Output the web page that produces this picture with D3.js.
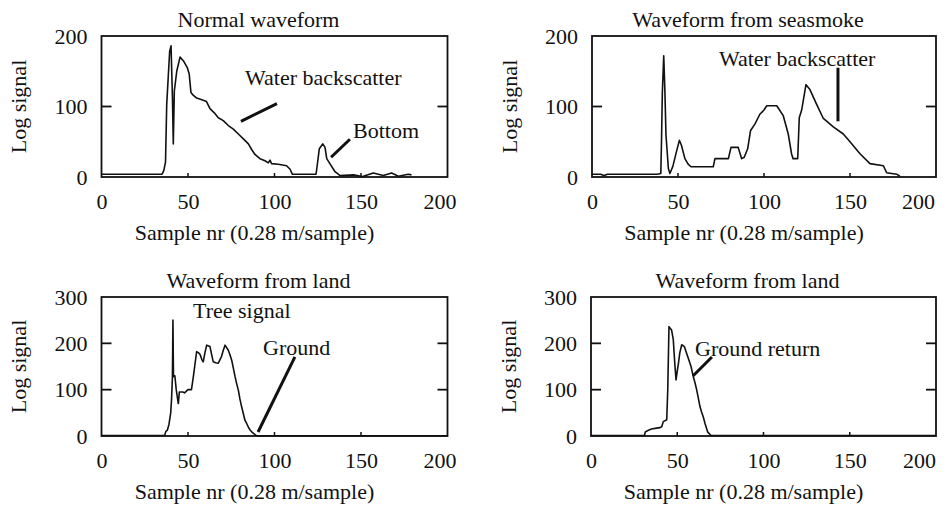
<!DOCTYPE html>
<html><head><meta charset="utf-8">
<script src="https://cdn.jsdelivr.net/npm/d3@7"></script>
<style>
html,body{margin:0;padding:0;background:#fff;}
svg{display:block;font-family:"Liberation Serif","Times New Roman",serif;}
</style></head><body>
<svg id="chart" width="949" height="506"></svg>
<script>
// ---------- data ----------
const xTickValues = [0, 50, 100, 150, 200];
const yTicksWater = [0, 100, 200];
const yTicksLand = [0, 100, 200, 300];
const panelTitles = ["Normal waveform", "Waveform from seasmoke", "Waveform from land", "Waveform from land"];
const xAxisTitle = "Sample nr (0.28 m/sample)";
const yAxisTitle = "Log signal";

// [sample nr, log signal]
const normalWave = [[0,4],[35,4],[36,9],[37,21],[37.7,103],[38.6,143],[39.4,178],[40.2,186],[41,113],[41.5,47],[42.1,122],
 [43.5,150],[45.4,170],[47.3,165],[49.6,155],[50.7,146],[51.7,120],[53,116],[55,112],[58.8,109],[60.7,107],[62.7,97],
 [65.2,91],[67.5,84],[70.4,80],[73.3,73],[76.2,68],[79.1,61],[82,54],[84.9,47],[86.8,39],[88.7,32],[91.6,26],[94.5,23],
 [96.4,20],[97.4,24],[98.3,19],[102.2,18],[107,16],[109,11],[110.3,4],[124,4],[124.4,11],[125.9,40],[127.9,47],[129.2,42],
 [130.2,26],[132,19],[135,7.5],[137.9,2],[145.7,3],[150.5,0.5],[157.1,5.6],[162.9,2],[167.7,5.6],[171.6,1],[177.3,4],[179.2,3]];

const seasmokeWave = [[0,4],[5,4],[7,2],[9,4],[34,4],[38,4],[40,5],[40.4,50],[40.9,120],[41.7,172],[42.4,120],[43,60],
 [44.4,12],[45.3,5],[47,15],[49,35],[50.8,52],[52,45],[54,26],[56,18],[57.6,14.5],[70.5,14.5],[71.5,26],[79.3,26],
 [80.8,42],[85,42],[87,26],[88.5,28],[90.5,40],[92.2,66],[94.7,75],[97.6,89],[100,95],[101.6,101],[107.4,101],
 [111.2,87],[114.1,61],[116,33],[116.9,26],[119.6,26],[120.5,84],[121.9,95],[124.4,131],[126.7,124],[130.6,103],
 [134.5,83],[140.3,71],[146.1,61],[150,50],[155.8,33],[161.6,19],[169.4,16],[171.3,6],[177.1,4],[179,1]];

const treeWave = [[0,1],[36.5,1],[37.2,10],[38,12],[39,25],[40,50],[40.5,80],[41,128],[41.3,250],[41.6,128],[42.4,130],
 [43.2,100],[44.4,70],[45,95],[47,95],[48,93],[50,100],[52,100],[53.1,128],[54.1,157],[55,182],[56,180],[57,176],
 [58,165],[58.8,160],[59.8,180],[60.8,196],[62.7,193],[63.7,175],[64.6,160],[66,158],[67.5,157],[68.5,165],[69.4,172],
 [70.4,185],[71.4,196],[73.3,185],[74.3,175],[75.3,163],[76.3,145],[77.2,128],[78.2,112],[79.1,99],[80,80],[81,63],
 [82,48],[82.9,34],[83.9,27],[84.9,19],[85.9,13],[86.8,9],[88,5],[89.5,1],[91,0.5],[200,0.5]];

const groundWave = [[0,1],[31,1],[31.5,9],[33,12],[35,15],[38,17],[40,18],[41,20],[41.9,31],[43.9,35],[44.5,100],
 [45.2,236],[46.7,229],[47.7,208],[48.5,160],[49.3,121],[50,140],[50.7,157],[51.5,180],[52.6,197],[54.1,193],[56,172],
 [58,150],[59.3,128],[60.3,115],[61.3,99],[62.3,80],[63.2,63],[64.1,52],[65.1,41],[66.1,27],[67.6,9],[69.6,1],[200,1]];

// annotation labels: text, sample nr, signal (text baseline start) and leader line ends in data units
const normalNotes = [
  {text:"Water backscatter", x:83, y:131, line:[[80.6,79],[101.4,104]]},
  {text:"Bottom", x:145.4, y:56, line:[[132.7,28],[143.6,53.5]]}
];
const seasmokeNotes = [
  {text:"Water backscatter", x:73.8, y:158, line:[[143,155],[143,79]]}
];
const treeNotes = [
  {text:"Tree signal", x:52.9, y:255, line:null},
  {text:"Ground", x:93.4, y:175, line:[[111.8,170.6],[90.5,8.6]]}
];
const groundNotes = [
  {text:"Ground return", x:60.3, y:173, line:[[70.1,170.6],[59.1,129.6]]}
];

// ---------- layout ----------
const panels = [
  {left:101.5, right:447.5, top:36, bottom:177, ymax:200, yTicks:yTicksWater, data:normalWave, title:panelTitles[0], notes:normalNotes, lastShift:-8},
  {left:592, right:936, top:36, bottom:177, ymax:200, yTicks:yTicksWater, data:seasmokeWave, title:panelTitles[1], notes:seasmokeNotes, lastShift:-18},
  {left:101.5, right:447.5, top:297, bottom:436, ymax:300, yTicks:yTicksLand, data:treeWave, title:panelTitles[2], notes:treeNotes, lastShift:-8},
  {left:591, right:936, top:297, bottom:436, ymax:300, yTicks:yTicksLand, data:groundWave, title:panelTitles[3], notes:groundNotes, lastShift:-17}
];

const svg = d3.select("#chart");
svg.append("rect").attr("width",949).attr("height",506).attr("fill","#fff");
const FS = 22;

panels.forEach(p => {
  const x = d3.scaleLinear().domain([0,200]).range([p.left,p.right]);
  const y = d3.scaleLinear().domain([0,p.ymax]).range([p.bottom,p.top]);
  const g = svg.append("g");
  const cx = (p.left+p.right)/2;

  // data line
  g.append("path").datum(p.data)
    .attr("fill","none").attr("stroke","#111").attr("stroke-width",1.6).attr("stroke-linejoin","round")
    .attr("d", d3.line().x(d=>x(d[0])).y(d=>y(d[1])));

  // frame
  g.append("rect").attr("x",p.left).attr("y",p.top)
    .attr("width",p.right-p.left).attr("height",p.bottom-p.top)
    .attr("fill","none").attr("stroke","#111").attr("stroke-width",1.8);

  // inner tick marks (y: both sides, x: bottom)
  const innerY = p.yTicks.filter(v => v>0 && v<p.ymax);
  g.selectAll(null).data(innerY).join("line")
    .attr("x1",p.left).attr("x2",p.left+10).attr("y1",d=>y(d)).attr("y2",d=>y(d))
    .attr("stroke","#111").attr("stroke-width",1.8);
  g.selectAll(null).data(innerY).join("line")
    .attr("x1",p.right).attr("x2",p.right-10).attr("y1",d=>y(d)).attr("y2",d=>y(d))
    .attr("stroke","#111").attr("stroke-width",1.8);
  g.selectAll(null).data(xTickValues.filter(v=>v>0&&v<200)).join("line")
    .attr("x1",d=>x(d)).attr("x2",d=>x(d)).attr("y1",p.bottom).attr("y2",p.bottom-4)
    .attr("stroke","#111").attr("stroke-width",1.5);

  // axes labels via d3 axes
  const ax = g.append("g").attr("transform",`translate(0,${p.bottom})`)
    .call(d3.axisBottom(x).tickValues(xTickValues).tickSize(0).tickPadding(16).tickFormat(d3.format("d")));
  const ay = g.append("g").attr("transform",`translate(${p.left},0)`)
    .call(d3.axisLeft(y).tickValues(p.yTicks).tickSize(0).tickPadding(14).tickFormat(d3.format("d")));
  [ax,ay].forEach(a => {
    a.select(".domain").remove();
    a.selectAll("text").attr("font-size",FS).attr("font-family","Liberation Serif").attr("fill","#111");
  });
  ax.selectAll("text").filter(d => d === 200).attr("dx", p.lastShift);

  // titles
  g.append("text").attr("x",cx-16).attr("y",p.top-9).attr("text-anchor","middle")
    .attr("font-size",FS).attr("fill","#111").text(p.title);
  g.append("text").attr("x",cx-20).attr("y",p.bottom+63).attr("text-anchor","middle")
    .attr("font-size",FS).attr("fill","#111").text(xAxisTitle);
  g.append("text").attr("transform",`translate(${p.left-83},${(p.top+p.bottom)/2}) rotate(-90)`)
    .attr("text-anchor","middle").attr("dominant-baseline","central")
    .attr("font-size",FS).attr("fill","#111").text(yAxisTitle);

  // annotations
  p.notes.forEach(n => {
    g.append("text").attr("x",x(n.x)).attr("y",y(n.y)).attr("font-size",FS).attr("fill","#111").text(n.text);
    if (n.line) {
      g.append("line").attr("x1",x(n.line[0][0])).attr("y1",y(n.line[0][1]))
        .attr("x2",x(n.line[1][0])).attr("y2",y(n.line[1][1]))
        .attr("stroke","#111").attr("stroke-width",3);
    }
  });
});
</script>
</body></html>
